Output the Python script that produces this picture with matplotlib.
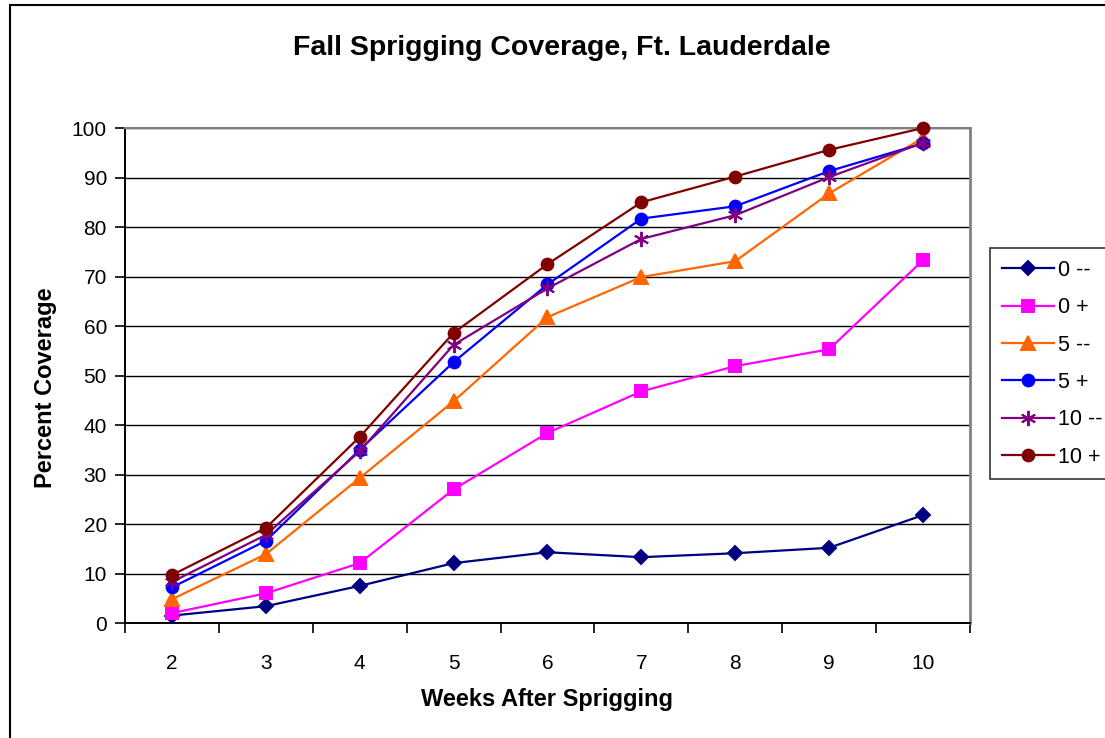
import numpy as np
import matplotlib
matplotlib.use('Agg')
import matplotlib.pyplot as plt
from matplotlib.patches import Rectangle

plt.rcParams['font.family'] = ['Liberation Sans', 'DejaVu Sans']

# semanas despues del sprigging
weeks = [2, 3, 4, 5, 6, 7, 8, 9, 10]

cov_0_minus = [1.5, 3.4, 7.5, 12.1, 14.3, 13.3, 14.1, 15.2, 21.8]
cov_0_plus = [2.0, 6.0, 12.1, 27.0, 38.4, 46.8, 51.9, 55.3, 73.3]
cov_5_minus = [4.8, 13.9, 29.3, 44.8, 61.8, 69.9, 73.1, 86.8, 98.0]
cov_5_plus = [7.2, 16.6, 35.0, 52.7, 68.4, 81.7, 84.2, 91.3, 96.9]
cov_10_minus = [8.3, 17.8, 34.7, 56.2, 67.6, 77.6, 82.4, 90.1, 97.0]
cov_10_plus = [9.7, 19.2, 37.6, 58.6, 72.5, 85.0, 90.2, 95.6, 100.0]

labels = ['0 --', '0 +', '5 --', '5 +', '10 --', '10 +']
series = [cov_0_minus, cov_0_plus, cov_5_minus, cov_5_plus, cov_10_minus, cov_10_plus]
colors = ['#000080', '#FF00FF', '#FF6600', '#0000FF', '#800080', '#800000']
markers = ['D', 's', '^', 'o', (6, 2, 0), 'o']
sizes = [7.5, 8.5, 9.5, 8.5, 11, 8.5]

fig = plt.figure(figsize=(11.05, 7.38), dpi=100)
ax = fig.add_axes([0.1131, 0.1558, 0.7647, 0.6707])

for vals, lab, c, m, s in zip(series, labels, colors, markers, sizes):
    ax.plot(weeks, vals, color=c, marker=m, markersize=s, linewidth=1.6,
            markeredgecolor=c, markeredgewidth=1.4, label=lab, clip_on=False, zorder=3)

ax.set_xlim(1.5, 10.5)
ax.set_ylim(0, 100)
ax.set_yticks(np.arange(0, 101, 10))
ax.set_xticks(weeks)
ax.set_xticks(np.arange(1.5, 10.6, 1), minor=True)
ax.tick_params(axis='x', which='major', length=0, labelsize=15, pad=22)
ax.tick_params(axis='x', which='minor', length=7, width=1.2, direction='out')
ax.tick_params(axis='y', length=7, width=1.2, direction='out', labelsize=15, pad=6)
ax.yaxis.grid(True, color='black', linewidth=1)
ax.set_axisbelow(True)

ax.spines['left'].set_color('black')
ax.spines['bottom'].set_color('black')
ax.spines['left'].set_linewidth(1.4)
ax.spines['bottom'].set_linewidth(1.4)
ax.spines['top'].set_color('#808080')
ax.spines['right'].set_color('#808080')
ax.spines['top'].set_linewidth(1.5)
ax.spines['right'].set_linewidth(2)

ax.set_xlabel('Weeks After Sprigging', fontsize=17, fontweight='bold', labelpad=11)
ax.set_ylabel('Percent Coverage', fontsize=17, fontweight='bold')
ax.yaxis.set_label_coords(-0.08, 0.475)
fig.text(0.508, 0.935, 'Fall Sprigging Coverage, Ft. Lauderdale', ha='center', va='center',
         fontsize=20.5, fontweight='bold')

leg = fig.legend(loc='upper left', bbox_to_anchor=(0.896, 0.664), fontsize=15.5,
                 frameon=True, fancybox=False, edgecolor='black', handlelength=2.4,
                 handletextpad=0.2, labelspacing=0.76, borderpad=0.55, borderaxespad=0)
leg.get_frame().set_linewidth(1.2)

# borde exterior del grafico
fig.patches.append(Rectangle((0.009, -0.01), 1.2, 1.003, transform=fig.transFigure,
                             fill=False, edgecolor='black', linewidth=1.5))

fig.savefig('out.png', dpi=100)
